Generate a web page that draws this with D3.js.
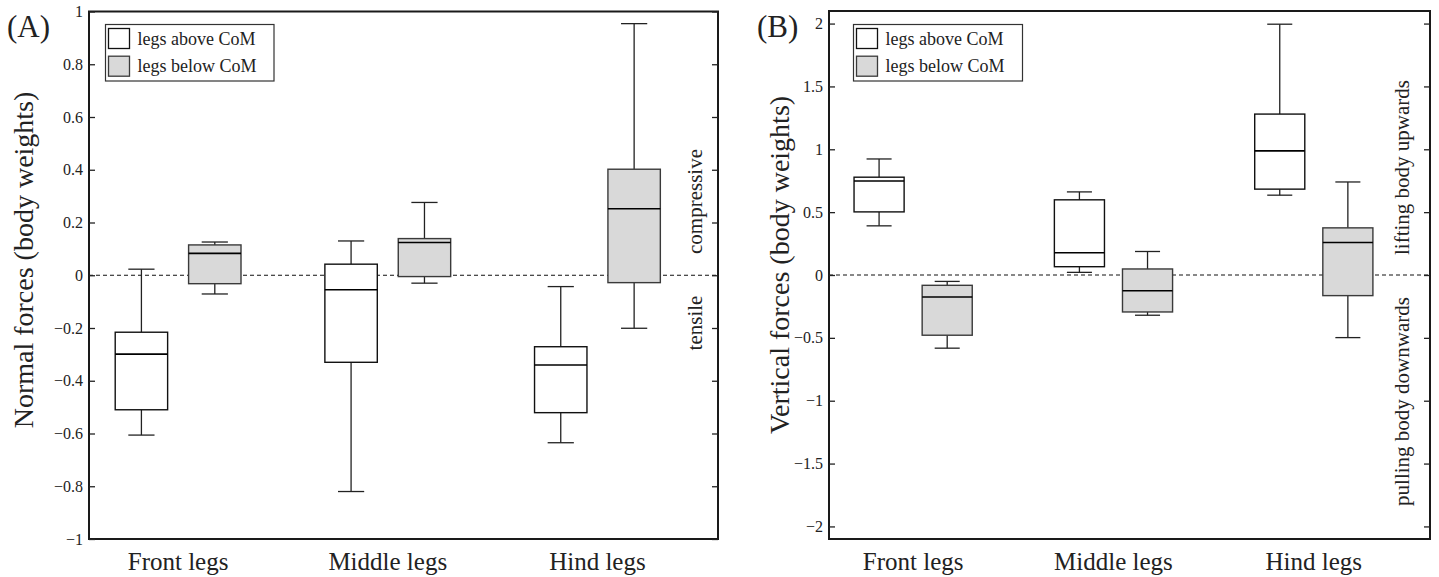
<!DOCTYPE html>
<html>
<head>
<meta charset="utf-8">
<script src="https://cdn.jsdelivr.net/npm/d3@7/dist/d3.min.js"></script>
<style>
  html, body { margin: 0; padding: 0; background: #fff; }
  svg { display: block; }
  text { font-family: "Liberation Serif", "Times New Roman", serif; fill: #222; }
</style>
</head>
<body>
<svg id="chart" width="1439" height="577"></svg>
<script>
// ---------------- data ----------------
const categories = ["Front legs", "Middle legs", "Hind legs"];
const seriesNames = ["legs above CoM", "legs below CoM"];
// each entry: [lower whisker, Q1, median, Q3, upper whisker]
const normalAbove = [
  [-0.606, -0.510, -0.299, -0.216, 0.023],
  [-0.820, -0.330, -0.055, 0.042, 0.130],
  [-0.635, -0.521, -0.340, -0.271, -0.043]
];
const normalBelow = [
  [-0.071, -0.032, 0.083, 0.115, 0.126],
  [-0.030, -0.005, 0.124, 0.139, 0.276],
  [-0.201, -0.028, 0.252, 0.402, 0.954]
];
const verticalAbove = [
  [0.391, 0.502, 0.748, 0.778, 0.923],
  [0.021, 0.066, 0.177, 0.598, 0.661],
  [0.635, 0.683, 0.987, 1.280, 1.995]
];
const verticalBelow = [
  [-0.582, -0.479, -0.175, -0.082, -0.051],
  [-0.320, -0.294, -0.125, 0.048, 0.187],
  [-0.498, -0.164, 0.259, 0.375, 0.740]
];
const normalTicks = [-1, -0.8, -0.6, -0.4, -0.2, 0, 0.2, 0.4, 0.6, 0.8, 1];
const verticalTicks = [-2, -1.5, -1, -0.5, 0, 0.5, 1, 1.5, 2];
const normalSideLabels = ["compressive", "tensile"];
const verticalSideLabels = ["lifting body upwards", "pulling body downwards"];

// ---------------- drawing ----------------
const svg = d3.select("#chart");
const fmt = v => (v < 0 ? "\u2212" : "") + String(Math.abs(v));

function drawPanel(cfg) {
  const g = svg.append("g");
  const x = d3.scaleLinear().domain([0.75, 3.75]).range([cfg.left, cfg.right]);
  const y = d3.scaleLinear().domain(cfg.domain).range([cfg.bottom, cfg.top]);

  // zero dashed line
  g.append("line")
    .attr("x1", cfg.left).attr("x2", cfg.right)
    .attr("y1", y(0)).attr("y2", y(0))
    .attr("stroke", "#111").attr("stroke-width", 1)
    .attr("stroke-dasharray", "4,3");

  const boxW = 0.25, capW = 0.125;
  const series = [
    { data: cfg.above, off: 0, fill: "#ffffff", stroke: "#111" },
    { data: cfg.below, off: cfg.offset, fill: "#d9d9d9", stroke: "#3a3a3a" }
  ];
  series.forEach(s => {
    s.data.forEach((d, i) => {
      const c = i + 1 + s.off;
      const [lo, q1, med, q3, hi] = d;
      const bg = g.append("g");
      bg.append("line").attr("x1", x(c)).attr("x2", x(c))
        .attr("y1", y(q3)).attr("y2", y(hi))
        .attr("stroke", "#222").attr("stroke-width", 1.3);
      bg.append("line").attr("x1", x(c)).attr("x2", x(c))
        .attr("y1", y(q1)).attr("y2", y(lo))
        .attr("stroke", "#222").attr("stroke-width", 1.3);
      [lo, hi].forEach(v => {
        bg.append("line")
          .attr("x1", x(c - capW / 2)).attr("x2", x(c + capW / 2))
          .attr("y1", y(v)).attr("y2", y(v))
          .attr("stroke", "#222").attr("stroke-width", 1.3);
      });
      bg.append("rect")
        .attr("x", x(c - boxW / 2)).attr("width", x(c + boxW / 2) - x(c - boxW / 2))
        .attr("y", y(q3)).attr("height", y(q1) - y(q3))
        .attr("fill", s.fill).attr("stroke", s.stroke).attr("stroke-width", 1.4);
      bg.append("line")
        .attr("x1", x(c - boxW / 2)).attr("x2", x(c + boxW / 2))
        .attr("y1", y(med)).attr("y2", y(med))
        .attr("stroke", "#000").attr("stroke-width", 1.6);
    });
  });

  // frame
  g.append("rect")
    .attr("x", cfg.left).attr("y", cfg.top)
    .attr("width", cfg.right - cfg.left).attr("height", cfg.bottom - cfg.top)
    .attr("fill", "none").attr("stroke", "#1a1a1a").attr("stroke-width", 2);

  // left axis (ticks inside)
  const leftAxis = d3.axisLeft(y).tickValues(cfg.ticks).tickSize(-6).tickPadding(6).tickFormat(fmt);
  const la = g.append("g").attr("transform", `translate(${cfg.left},0)`).call(leftAxis);
  la.select(".domain").remove();
  la.selectAll(".tick line").attr("stroke", "#222").attr("stroke-width", 1.3);
  la.selectAll(".tick text")
    .attr("font-family", "Liberation Serif, serif").attr("font-size", 16).attr("fill", "#333");

  // right axis (ticks inside, no labels)
  const rightAxis = d3.axisRight(y).tickValues(cfg.ticks).tickSize(-6).tickFormat("");
  const ra = g.append("g").attr("transform", `translate(${cfg.right},0)`).call(rightAxis);
  ra.select(".domain").remove();
  ra.selectAll(".tick line").attr("stroke", "#222").attr("stroke-width", 1.3);

  // category labels
  categories.forEach((name, i) => {
    g.append("text")
      .attr("x", x(i + 1 + cfg.offset / 2)).attr("y", 570)
      .attr("text-anchor", "middle").attr("font-size", 25)
      .text(name);
  });

  // y-axis title
  g.append("text")
    .attr("transform", `translate(${cfg.ylabelX},${cfg.ylabelY}) rotate(-90)`)
    .attr("text-anchor", "middle").attr("font-size", 28)
    .text(cfg.ylabel);

  // panel label
  g.append("text")
    .attr("x", cfg.tagX).attr("y", 37)
    .attr("font-size", 31)
    .text(cfg.tag);

  // side annotations
  cfg.side.forEach((lab, i) => {
    g.append("text")
      .attr("transform", `translate(${cfg.sideX},${cfg.sideY[i]}) rotate(-90)`)
      .attr("text-anchor", "middle").attr("font-size", 21)
      .attr("fill", "#333")
      .text(lab);
  });

  // legend
  const lg = g.append("g");
  lg.append("rect")
    .attr("x", cfg.legX).attr("y", 24.5).attr("width", cfg.legW).attr("height", 56.5)
    .attr("fill", "#fff").attr("stroke", "#333").attr("stroke-width", 1.2);
  seriesNames.forEach((name, i) => {
    const sw = series[i];
    lg.append("rect")
      .attr("x", cfg.legX + 3).attr("y", 28.5 + i * 27.7)
      .attr("width", 21).attr("height", 20)
      .attr("fill", sw.fill).attr("stroke", sw.stroke).attr("stroke-width", 1.3);
    lg.append("text")
      .attr("x", cfg.legX + 32).attr("y", 44.5 + i * 27.7)
      .attr("font-size", 18).attr("fill", "#222")
      .text(name);
  });
}

drawPanel({
  left: 89, right: 718, top: 11.5, bottom: 539, domain: [-1, 1], ticks: normalTicks,
  above: normalAbove, below: normalBelow, offset: 0.35,
  ylabel: "Normal forces (body weights)", ylabelX: 33, ylabelY: 260,
  tag: "(A)", tagX: 7,
  side: normalSideLabels, sideX: 702, sideY: [201.5, 323],
  legX: 105.5, legW: 168.5
});

drawPanel({
  left: 829, right: 1430, top: 11, bottom: 539, domain: [-2.1, 2.1], ticks: verticalTicks,
  above: verticalAbove, below: verticalBelow, offset: 0.34,
  ylabel: "Vertical forces (body weights)", ylabelX: 789, ylabelY: 265,
  tag: "(B)", tagX: 757,
  side: verticalSideLabels, sideX: 1409, sideY: [167.5, 401.5],
  legX: 853.5, legW: 169
});
</script>
</body>
</html>
